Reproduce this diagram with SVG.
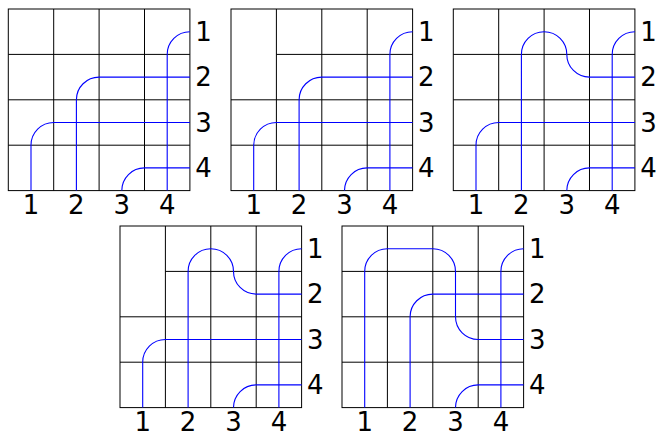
<svg xmlns="http://www.w3.org/2000/svg" width="656" height="432" viewBox="0 0 656 432">
<style>
.grid{fill:none;stroke:#000;stroke-width:1}
.wire{fill:none;stroke:#0000ff;stroke-width:1.1}
.lbl{font-family:"DejaVu Sans",sans-serif;font-size:26px;fill:#000}
.bot{text-anchor:middle}
</style>
<defs>
<g id="full-grid">
<rect class="grid" x="0" y="0" width="181.6" height="181.6"/>
<path class="grid" d="M45.4 0V181.6M90.8 0V181.6M136.2 0V181.6M0 45.4H181.6M0 90.8H181.6M0 136.2H181.6"/>
</g>
<g id="merged-grid">
<rect class="grid" x="0" y="0" width="181.6" height="181.6"/>
<path class="grid" d="M45.4 0V181.6M90.8 0V181.6M136.2 0V181.6M45.4 45.4H181.6M0 90.8H181.6M0 136.2H181.6"/>
</g>
<g id="labels">
<text class="lbl" x="187" y="32">1</text>
<text class="lbl" x="187" y="77.4">2</text>
<text class="lbl" x="187" y="122.8">3</text>
<text class="lbl" x="187" y="168.2">4</text>
<text class="lbl bot" x="22.7" y="205">1</text>
<text class="lbl bot" x="68.1" y="205">2</text>
<text class="lbl bot" x="113.5" y="205">3</text>
<text class="lbl bot" x="158.9" y="205">4</text>
</g>
<path id="w1a" class="wire" d="M22.7 181.6V136.2A22.7 22.7 0 0 1 45.4 113.5H181.6"/>
<path id="w2a" class="wire" d="M68.1 181.6V90.8A22.7 22.7 0 0 1 90.8 68.1H181.6"/>
<path id="w2b" class="wire" d="M68.1 181.6V45.4A22.7 22.7 0 0 1 113.5 45.4A22.7 22.7 0 0 0 136.2 68.1H181.6"/>
<path id="w3a" class="wire" d="M113.5 181.6A22.7 22.7 0 0 1 136.2 158.9H181.6"/>
<path id="w4a" class="wire" d="M158.9 181.6V45.4A22.7 22.7 0 0 1 181.6 22.7"/>
<path id="w1b" class="wire" d="M22.7 181.6V45.4A22.7 22.7 0 0 1 45.4 22.7H90.8A22.7 22.7 0 0 1 113.5 45.4V90.8A22.7 22.7 0 0 0 136.2 113.5H181.6"/>
</defs>
<rect x="0" y="0" width="656" height="432" fill="#fff"/>
<g id="panel1" transform="translate(8.3,9)">
<use href="#full-grid"/>
<g id="panel1-wires"><use href="#w1a"/><use href="#w2a"/><use href="#w3a"/><use href="#w4a"/></g>
<use href="#labels"/>
</g>
<g id="panel2" transform="translate(231,9)">
<use href="#merged-grid"/>
<g id="panel2-wires"><use href="#w1a"/><use href="#w2a"/><use href="#w3a"/><use href="#w4a"/></g>
<use href="#labels"/>
</g>
<g id="panel3" transform="translate(453.3,9)">
<use href="#full-grid"/>
<g id="panel3-wires"><use href="#w1a"/><use href="#w2b"/><use href="#w3a"/><use href="#w4a"/></g>
<use href="#labels"/>
</g>
<g id="panel4" transform="translate(120,226)">
<use href="#merged-grid"/>
<g id="panel4-wires"><use href="#w1a"/><use href="#w2b"/><use href="#w3a"/><use href="#w4a"/></g>
<use href="#labels"/>
</g>
<g id="panel5" transform="translate(342,226)">
<use href="#full-grid"/>
<g id="panel5-wires"><use href="#w1b"/><use href="#w2a"/><use href="#w3a"/><use href="#w4a"/></g>
<use href="#labels"/>
</g>
</svg>
